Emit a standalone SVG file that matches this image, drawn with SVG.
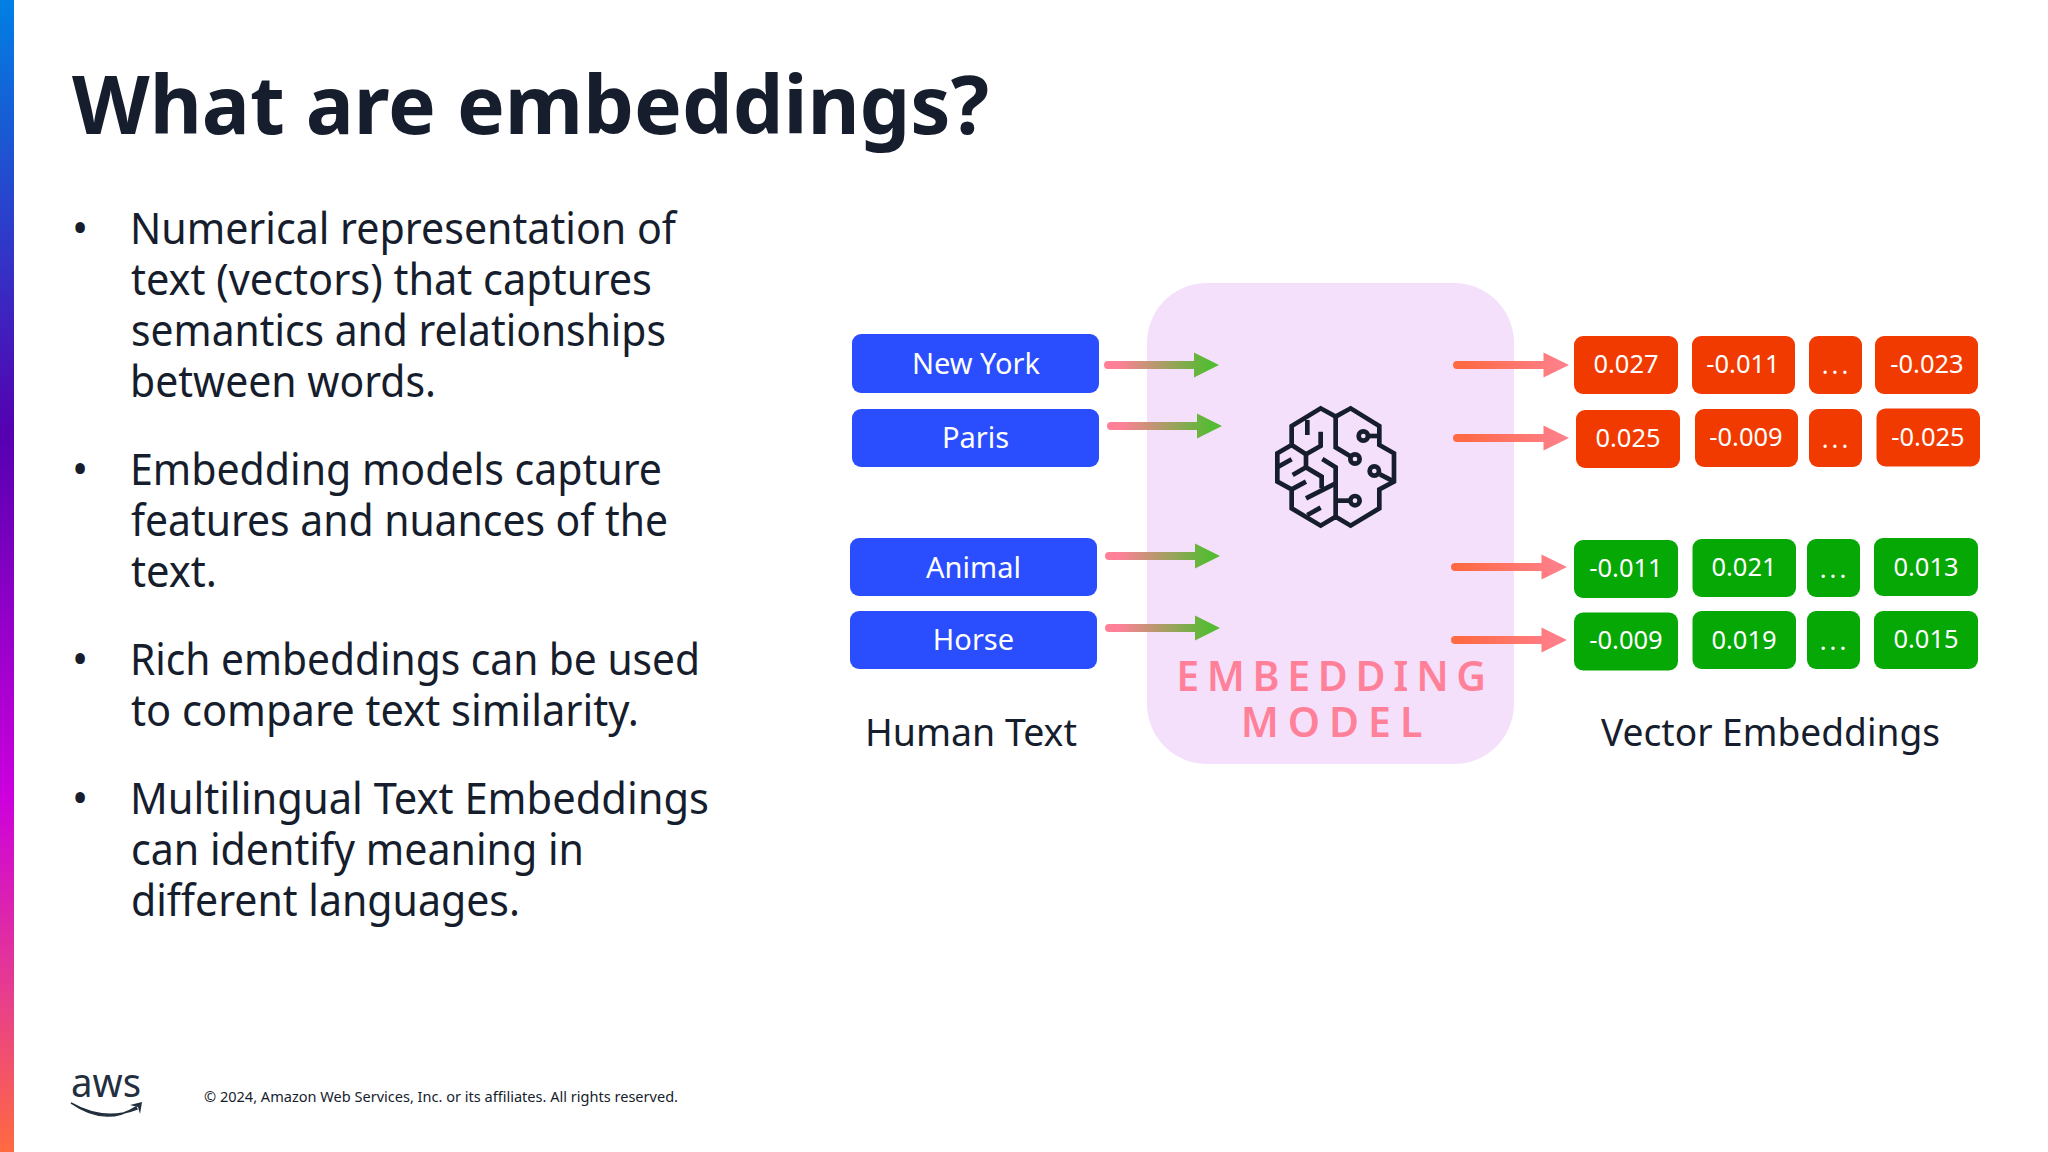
<svg xmlns="http://www.w3.org/2000/svg" width="2048" height="1152" viewBox="0 0 2048 1152">
<style>
text{font-family:"Noto Sans","Open Sans",sans-serif}
.title{font-size:80px;font-weight:700;fill:#161d2d}
.body{font-size:43px;fill:#161d2d}
.cap{font-size:39px;fill:#161d2d}
.btn{font-size:29px;fill:#fff;text-anchor:middle}
.num{font-size:25.5px;fill:#fff;text-anchor:middle}
.dots{letter-spacing:3px}
.big{font-size:41px;font-weight:600;fill:#ff8199;text-anchor:middle}
.blue{fill:#2a4efe}.red{fill:#f03a00}.green{fill:#05a805}
.lg{fill:url(#gl)}.rg{fill:url(#gr)}
.brain{fill:none;stroke:#161d2d;stroke-width:14}
</style>
<defs>
<linearGradient id="bar" x1="0" y1="0" x2="0" y2="1">
<stop offset="0" stop-color="#0080e4"/><stop offset=".376" stop-color="#5500b0"/><stop offset=".69" stop-color="#cc00dd"/><stop offset=".87" stop-color="#e8408a"/><stop offset="1" stop-color="#ff6a40"/>
</linearGradient>
<linearGradient id="gl" x1="0" y1="0" x2="1" y2="0"><stop offset=".12" stop-color="#ff8097"/><stop offset=".9" stop-color="#55bb33"/></linearGradient>
<linearGradient id="gr" x1="0" y1="0" x2="1" y2="0"><stop offset=".1" stop-color="#ff6a45"/><stop offset=".9" stop-color="#ff7f88"/></linearGradient>
<path id="al" d="M4 -4H90V-12.5L115 0L90 12.5V4H4A4 4 0 0 1 4 -4Z"/>
<path id="ar" d="M4 -4H90.500V-12.500L116 0L90.500 12.500V4H4A4 4 0 0 1 4 -4Z"/>
</defs>
<rect id="accent-bar" x="0" y="0" width="14" height="1152" fill="url(#bar)"/>
<text id="title" class="title" x="72" y="134" textLength="917" lengthAdjust="spacingAndGlyphs">What are embeddings?</text>
<g id="bullets" class="body">
<text x="80" y="244" text-anchor="middle">•</text>
<text x="130" y="244" textLength="546" lengthAdjust="spacingAndGlyphs">Numerical representation of</text>
<text x="131" y="295" textLength="521" lengthAdjust="spacingAndGlyphs">text (vectors) that captures</text>
<text x="131" y="346" textLength="535" lengthAdjust="spacingAndGlyphs">semantics and relationships</text>
<text x="130" y="397" textLength="306" lengthAdjust="spacingAndGlyphs">between words.</text>
<text x="80" y="485" text-anchor="middle">•</text>
<text x="130" y="485" textLength="532" lengthAdjust="spacingAndGlyphs">Embedding models capture</text>
<text x="131" y="536" textLength="537" lengthAdjust="spacingAndGlyphs">features and nuances of the</text>
<text x="131" y="587" textLength="86" lengthAdjust="spacingAndGlyphs">text.</text>
<text x="80" y="675" text-anchor="middle">•</text>
<text x="130" y="675" textLength="570" lengthAdjust="spacingAndGlyphs">Rich embeddings can be used</text>
<text x="131" y="726" textLength="508" lengthAdjust="spacingAndGlyphs">to compare text similarity.</text>
<text x="80" y="814" text-anchor="middle">•</text>
<text x="130" y="814" textLength="579" lengthAdjust="spacingAndGlyphs">Multilingual Text Embeddings</text>
<text x="131" y="865" textLength="453" lengthAdjust="spacingAndGlyphs">can identify meaning in</text>
<text x="131" y="916" textLength="389" lengthAdjust="spacingAndGlyphs">different languages.</text>
</g>
<g id="embedding-model">
<rect x="1147" y="283" width="367" height="481" rx="60" fill="#f5e0fb"/>
<g class="brain" transform="translate(1220 360) scale(.3333)">
<path d="M347 170L392 145L478 198V255L522 280V365L478 388V445L392 497L347 470L302 497L215 445V388L172 365V280L215 255V198L302 145Z"/>
<path d="M347 170V262L390 288"/><circle cx="405" cy="297" r="14"/>
<circle cx="430" cy="228" r="14"/><path d="M445 228H478"/>
<circle cx="463" cy="333" r="14"/><path d="M480 343L522 365"/>
<circle cx="405" cy="422" r="14"/><path d="M347 422H390"/>
<path d="M347 470V322L307 297"/><path d="M347 370L258 415"/>
<path d="M262 180V225"/><path d="M302 215V258L258 283L215 255"/>
<path d="M258 283V322L305 350V385"/><path d="M215 388L258 365"/>
<path d="M218 345L258 322"/><path d="M172 322L215 298"/><path d="M262 465L302 443"/>
</g>
<text class="big" x="1335" y="691" letter-spacing="7.700">EMBEDDING</text>
<text class="big" x="1336" y="737" letter-spacing="9">MODEL</text>
</g>
<g id="connectors">
<use href="#al" class="lg" x="1104" y="365"/>
<use href="#al" class="lg" x="1107" y="426"/>
<use href="#al" class="lg" x="1105" y="556"/>
<use href="#al" class="lg" x="1105" y="628"/>
<use href="#ar" class="rg" x="1453" y="365"/>
<use href="#ar" class="rg" x="1453" y="438"/>
<use href="#ar" class="rg" x="1451" y="567"/>
<use href="#ar" class="rg" x="1451" y="640"/>
</g>
<g id="inputs">
<g id="in-newyork"><rect class="blue" x="852" y="334" width="247" height="59" rx="9"/><text class="btn" x="976" y="374">New York</text></g>
<g id="in-paris"><rect class="blue" x="852" y="409" width="247" height="58" rx="9"/><text class="btn" x="975.500" y="448">Paris</text></g>
<g id="in-animal"><rect class="blue" x="850" y="538" width="247" height="58" rx="9"/><text class="btn" x="973.500" y="578">Animal</text></g>
<g id="in-horse"><rect class="blue" x="850" y="611" width="247" height="58" rx="9"/><text class="btn" x="973.500" y="650">Horse</text></g>
</g>
<text id="human-text" class="cap" x="865" y="746" textLength="212" lengthAdjust="spacingAndGlyphs">Human Text</text>
<text id="vector-embeddings" class="cap" x="1601" y="746" textLength="339" lengthAdjust="spacingAndGlyphs">Vector Embeddings</text>
<g id="vectors">
<g id="v1a"><rect class="red" x="1574" y="336" width="104" height="58" rx="9"/><text class="num" x="1626" y="373">0.027</text></g>
<g id="v1b"><rect class="red" x="1692" y="336" width="103" height="58" rx="9"/><text class="num" x="1743" y="373">-0.011</text></g>
<g id="v1c"><rect class="red" x="1809" y="336" width="53" height="58" rx="9"/><text class="num dots" x="1836.500" y="374">...</text></g>
<g id="v1d"><rect class="red" x="1875" y="336" width="103" height="58" rx="9"/><text class="num" x="1927" y="373">-0.023</text></g>
<g id="v2a"><rect class="red" x="1576" y="410" width="104" height="58" rx="9"/><text class="num" x="1628" y="447">0.025</text></g>
<g id="v2b"><rect class="red" x="1695" y="409" width="103" height="58" rx="9"/><text class="num" x="1746" y="446">-0.009</text></g>
<g id="v2c"><rect class="red" x="1809" y="409" width="53" height="58" rx="9"/><text class="num dots" x="1836.500" y="448">...</text></g>
<g id="v2d"><rect class="red" x="1876.500" y="408.500" width="103.500" height="58" rx="9"/><text class="num" x="1928" y="446">-0.025</text></g>
<g id="v3a"><rect class="green" x="1574" y="540" width="104" height="58" rx="9"/><text class="num" x="1626" y="577">-0.011</text></g>
<g id="v3b"><rect class="green" x="1692.500" y="539" width="103.500" height="58" rx="9"/><text class="num" x="1744" y="576">0.021</text></g>
<g id="v3c"><rect class="green" x="1807" y="539" width="53" height="58" rx="9"/><text class="num dots" x="1834.500" y="578">...</text></g>
<g id="v3d"><rect class="green" x="1874" y="538" width="104" height="58" rx="9"/><text class="num" x="1926" y="575.500">0.013</text></g>
<g id="v4a"><rect class="green" x="1574" y="612.500" width="104" height="58" rx="9"/><text class="num" x="1626" y="649">-0.009</text></g>
<g id="v4b"><rect class="green" x="1692.500" y="611" width="103.500" height="58" rx="9"/><text class="num" x="1744" y="648.500">0.019</text></g>
<g id="v4c"><rect class="green" x="1807" y="611" width="53" height="58" rx="9"/><text class="num dots" x="1834.500" y="650">...</text></g>
<g id="v4d"><rect class="green" x="1874" y="611" width="104" height="58" rx="9"/><text class="num" x="1926" y="648">0.015</text></g>
</g>
<g id="footer">
<text x="71" y="1097" font-size="40" fill="#232f3e" textLength="70" lengthAdjust="spacingAndGlyphs">aws</text>
<path d="M71 1103Q105 1127 136 1107L137 1109Q104 1122 71 1103Z" fill="#232f3e" stroke="#232f3e" stroke-width="1.500"/>
<path d="M130 1105L142 1102L140 1114L138 1107Z" fill="#232f3e"/>
<text x="204" y="1102" font-size="15" fill="#161d2d" textLength="474" lengthAdjust="spacingAndGlyphs">© 2024, Amazon Web Services, Inc. or its affiliates. All rights reserved.</text>
</g>
</svg>
